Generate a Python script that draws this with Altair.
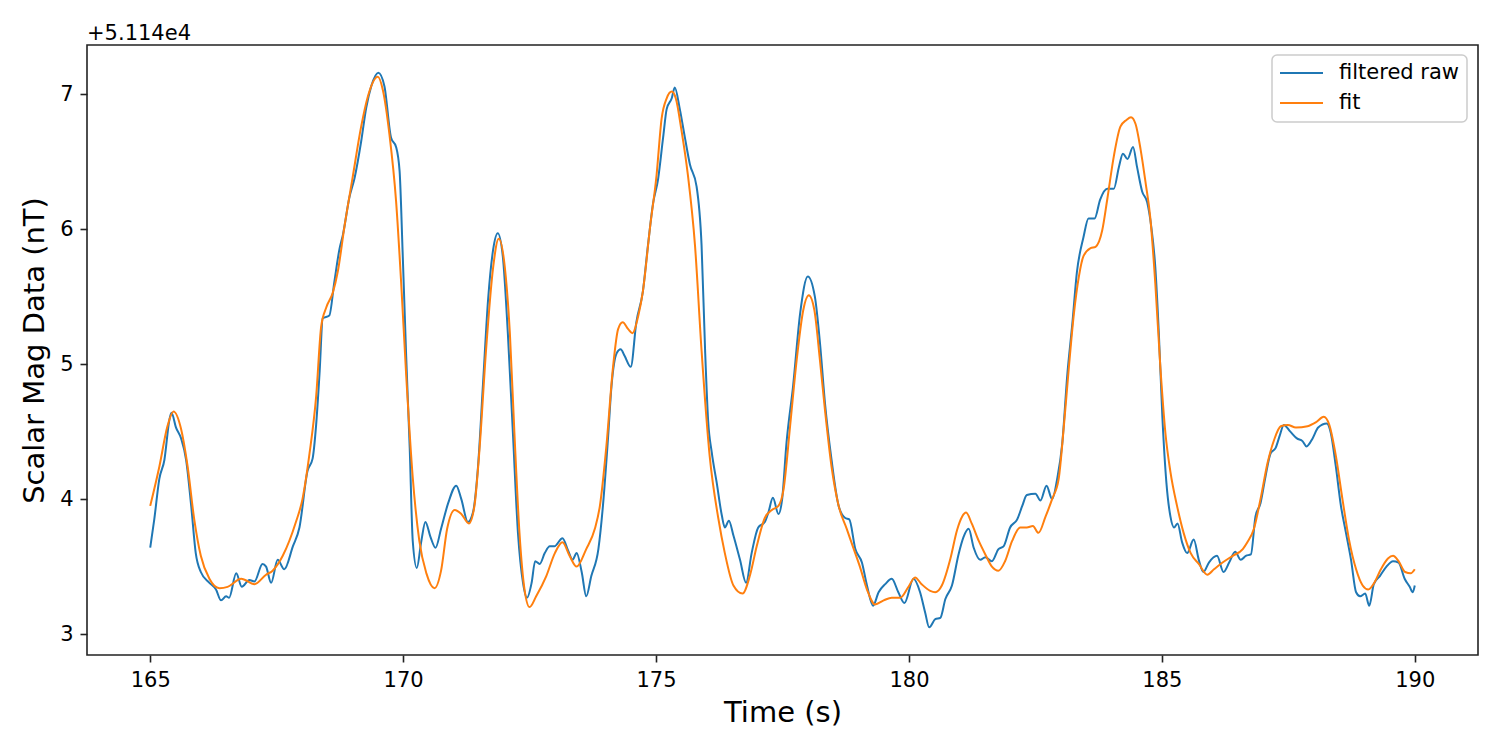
import altair as alt
import pandas as pd

# filtered raw (blue): time (s), value offset from 5.114e4 (nT)
raw_t = [165.00, 165.08, 165.18, 165.28, 165.38, 165.42, 165.51, 165.61, 165.71, 165.81,
         165.90, 166.00, 166.17, 166.30, 166.40, 166.50, 166.56, 166.70, 166.81, 166.96,
         167.06, 167.22, 167.29, 167.39, 167.52, 167.65, 167.82, 167.95, 168.11, 168.21,
         168.28, 168.35, 168.41, 168.54, 168.64, 168.74, 168.81, 168.94, 169.04, 169.17,
         169.27, 169.37, 169.51, 169.63, 169.76, 169.86, 169.93, 169.99, 170.06, 170.13,
         170.19, 170.27, 170.36, 170.44, 170.54, 170.64, 170.75, 170.89, 171.05, 171.15,
         171.28, 171.38, 171.48, 171.58, 171.68, 171.78, 171.87, 171.97, 172.07, 172.17,
         172.27, 172.37, 172.45, 172.54, 172.61, 172.70, 172.80, 172.90, 172.99, 173.15,
         173.26, 173.35, 173.43, 173.53, 173.62, 173.72, 173.86, 173.95, 174.05, 174.12,
         174.22, 174.30, 174.38, 174.50, 174.61, 174.74, 174.84, 174.94, 175.04, 175.14,
         175.21, 175.31, 175.37, 175.47, 175.57, 175.67, 175.80, 175.90, 175.97, 176.03,
         176.10, 176.20, 176.30, 176.36, 176.44, 176.53, 176.66, 176.78, 176.89, 177.02,
         177.15, 177.22, 177.31, 177.42, 177.49, 177.58, 177.71, 177.85, 178.00, 178.14,
         178.24, 178.34, 178.47, 178.61, 178.74, 178.82, 178.94, 179.07, 179.17, 179.29,
         179.40, 179.53, 179.66, 179.79, 179.91, 180.09, 180.22, 180.32, 180.40, 180.52,
         180.62, 180.72, 180.85, 180.98, 181.08, 181.18, 181.28, 181.41, 181.51, 181.64,
         181.77, 181.87, 182.00, 182.14, 182.24, 182.33, 182.50, 182.60, 182.72, 182.83,
         182.93, 183.03, 183.13, 183.23, 183.32, 183.45, 183.55, 183.67, 183.78, 183.92,
         184.05, 184.15, 184.23, 184.32, 184.43, 184.51, 184.61, 184.71, 184.79, 184.87,
         184.94, 185.01, 185.09, 185.17, 185.24, 185.31, 185.40, 185.50, 185.63, 185.73,
         185.82, 185.93, 186.09, 186.22, 186.33, 186.45, 186.56, 186.66, 186.76, 186.85,
         186.95, 187.05, 187.15, 187.25, 187.33, 187.41, 187.54, 187.67, 187.78, 187.86,
         187.98, 188.09, 188.26, 188.34, 188.44, 188.54, 188.64, 188.74, 188.84, 188.92,
         189.02, 189.10, 189.19, 189.31, 189.44, 189.57, 189.68, 189.80, 189.90, 189.96,
         190.00]
raw_v = [3.64, 3.85, 4.15, 4.29, 4.59, 4.64, 4.53, 4.45, 4.29, 3.95,
         3.60, 3.46, 3.38, 3.33, 3.25, 3.28, 3.27, 3.45, 3.35, 3.40,
         3.39, 3.52, 3.50, 3.38, 3.55, 3.48, 3.65, 3.79, 4.21, 4.30,
         4.55, 4.95, 5.34, 5.36, 5.61, 5.85, 5.96, 6.24, 6.38, 6.65,
         6.90, 7.06, 7.16, 7.06, 6.68, 6.61, 6.43, 5.83, 5.06, 4.38,
         3.69, 3.49, 3.69, 3.83, 3.72, 3.64, 3.78, 3.97, 4.10, 4.00,
         3.83, 3.90, 4.24, 4.86, 5.48, 5.85, 5.97, 5.80, 5.23, 4.49,
         3.75, 3.38, 3.27, 3.38, 3.54, 3.52, 3.60, 3.65, 3.65, 3.71,
         3.62, 3.55, 3.60, 3.46, 3.28, 3.43, 3.63, 3.95, 4.45, 4.84,
         5.08, 5.11, 5.06, 4.98, 5.31, 5.54, 5.88, 6.19, 6.37, 6.68,
         6.89, 6.97, 7.05, 6.89, 6.68, 6.48, 6.32, 5.88, 5.10, 4.58,
         4.35, 4.12, 3.88, 3.79, 3.84, 3.73, 3.55, 3.38, 3.60, 3.79,
         3.83, 3.90, 4.01, 3.89, 3.99, 4.42, 4.84, 5.38, 5.65, 5.50,
         5.16, 4.71, 4.29, 3.95, 3.86, 3.85, 3.63, 3.53, 3.36, 3.21,
         3.31, 3.37, 3.41, 3.31, 3.23, 3.41, 3.31, 3.16, 3.05, 3.11,
         3.12, 3.26, 3.36, 3.59, 3.72, 3.78, 3.64, 3.55, 3.57, 3.54,
         3.63, 3.65, 3.79, 3.85, 3.95, 4.03, 4.04, 3.99, 4.10, 4.00,
         4.15, 4.41, 4.92, 5.30, 5.68, 5.94, 6.08, 6.08, 6.22, 6.30,
         6.30, 6.46, 6.56, 6.52, 6.61, 6.46, 6.28, 6.20, 6.02, 5.72,
         5.23, 4.61, 4.12, 3.87, 3.79, 3.82, 3.68, 3.60, 3.70, 3.55,
         3.46, 3.53, 3.58, 3.46, 3.53, 3.61, 3.55, 3.58, 3.59, 3.87,
         3.97, 4.17, 4.34, 4.38, 4.47, 4.55, 4.50, 4.45, 4.43, 4.39,
         4.45, 4.53, 4.56, 4.49, 4.24, 3.95, 3.75, 3.55, 3.31, 3.28,
         3.30, 3.21, 3.37, 3.43, 3.50, 3.54, 3.53, 3.41, 3.35, 3.31,
         3.36]

# fit (orange)
fit_t = [165.00, 165.18, 165.34, 165.46, 165.61, 165.74, 165.87, 166.00, 166.17, 166.37,
         166.53, 166.80, 167.06, 167.29, 167.42, 167.62, 167.88, 168.01, 168.15, 168.28,
         168.38, 168.48, 168.61, 168.71, 168.84, 169.00, 169.17, 169.30, 169.50, 169.60,
         169.73, 169.86, 169.96, 170.06, 170.19, 170.32, 170.46, 170.62, 170.75, 170.87,
         171.02, 171.15, 171.30, 171.41, 171.51, 171.64, 171.78, 171.89, 172.01, 172.11,
         172.20, 172.30, 172.40, 172.50, 172.63, 172.83, 173.00, 173.15, 173.29, 173.43,
         173.62, 173.79, 173.89, 174.02, 174.15, 174.25, 174.34, 174.45, 174.53, 174.65,
         174.74, 174.88, 175.01, 175.11, 175.21, 175.31, 175.39, 175.50, 175.63, 175.77,
         175.90, 176.06, 176.23, 176.36, 176.53, 176.71, 176.86, 176.99, 177.15, 177.29,
         177.42, 177.52, 177.65, 177.78, 177.91, 178.02, 178.13, 178.24, 178.34, 178.47,
         178.61, 178.77, 178.89, 179.03, 179.17, 179.33, 179.50, 179.66, 179.83, 179.99,
         180.12, 180.25, 180.42, 180.52, 180.65, 180.82, 180.95, 181.05, 181.13, 181.24,
         181.38, 181.51, 181.64, 181.77, 181.90, 182.04, 182.20, 182.33, 182.45, 182.56,
         182.70, 182.83, 182.96, 183.06, 183.16, 183.26, 183.36, 183.45, 183.59, 183.69,
         183.82, 183.92, 184.05, 184.18, 184.30, 184.39, 184.48, 184.58, 184.68, 184.77,
         184.87, 184.97, 185.07, 185.17, 185.30, 185.43, 185.57, 185.73, 185.90, 186.03,
         186.20, 186.40, 186.60, 186.69, 186.82, 186.95, 187.09, 187.22, 187.35, 187.49,
         187.65, 187.88, 188.05, 188.20, 188.31, 188.44, 188.57, 188.70, 188.84, 188.97,
         189.08, 189.20, 189.33, 189.47, 189.57, 189.68, 189.81, 189.92, 190.00]
fit_v = [3.95, 4.24, 4.54, 4.65, 4.52, 4.24, 3.85, 3.58, 3.41, 3.34,
         3.35, 3.41, 3.37, 3.44, 3.47, 3.58, 3.83, 4.00, 4.34, 4.76,
         5.28, 5.42, 5.53, 5.69, 6.02, 6.38, 6.76, 6.98, 7.13, 7.03,
         6.70, 6.21, 5.61, 4.92, 4.16, 3.69, 3.45, 3.34, 3.47, 3.78,
         3.92, 3.89, 3.82, 3.95, 4.37, 5.11, 5.72, 5.93, 5.72, 5.23,
         4.49, 3.75, 3.33, 3.20, 3.28, 3.43, 3.60, 3.68, 3.58, 3.50,
         3.63, 3.78, 3.95, 4.40, 4.98, 5.26, 5.31, 5.26, 5.23, 5.36,
         5.54, 6.01, 6.40, 6.82, 6.97, 7.02, 6.97, 6.74, 6.40, 5.88,
         5.10, 4.32, 3.86, 3.60, 3.36, 3.30, 3.44, 3.65, 3.86, 3.92,
         3.95, 4.07, 4.54, 5.03, 5.40, 5.51, 5.40, 5.03, 4.66, 4.24,
         3.95, 3.78, 3.65, 3.50, 3.33, 3.22, 3.25, 3.27, 3.27, 3.35,
         3.42, 3.37, 3.32, 3.31, 3.36, 3.56, 3.77, 3.87, 3.90, 3.82,
         3.69, 3.59, 3.50, 3.47, 3.54, 3.69, 3.79, 3.79, 3.80, 3.75,
         3.87, 4.00, 4.15, 4.53, 4.97, 5.37, 5.65, 5.80, 5.86, 5.87,
         5.99, 6.22, 6.54, 6.76, 6.81, 6.83, 6.78, 6.59, 6.34, 6.09,
         5.60, 4.98, 4.49, 4.20, 3.95, 3.75, 3.60, 3.52, 3.44, 3.48,
         3.53, 3.58, 3.63, 3.68, 3.78, 4.00, 4.27, 4.44, 4.54, 4.55,
         4.53, 4.54, 4.57, 4.61, 4.55, 4.32, 4.00, 3.70, 3.48, 3.36,
         3.33, 3.38, 3.48, 3.56, 3.58, 3.54, 3.46, 3.45, 3.48]

x_ticks = [165, 170, 175, 180, 185, 190]
y_ticks = [3, 4, 5, 6, 7]
series_names = ["filtered raw", "fit"]
series_colors = ["#1f77b4", "#ff7f0e"]
offset_label = "+5.114e4"

FONT = "DejaVu Sans"
W, H = 1391, 610

raw_df = pd.DataFrame({"t": raw_t, "v": raw_v})
fit_df = pd.DataFrame({"t": fit_t, "v": fit_v})

xs = alt.Scale(domain=[163.75, 191.25], nice=False, zero=False)
ys = alt.Scale(domain=[2.845, 7.365], nice=False, zero=False)

x_axis = alt.Axis(values=x_ticks, title="Time (s)", grid=False, domain=False,
                  tickSize=7, tickWidth=1.6, tickColor="#222222",
                  labelFontSize=21, labelFont=FONT, labelColor="black", labelPadding=7,
                  titleFontSize=29, titleFont=FONT, titleFontWeight="normal",
                  titleColor="black", titlePadding=8, format="d", labelFlush=False)
y_axis = alt.Axis(values=y_ticks, title="Scalar Mag Data (nT)", grid=False, domain=False,
                  tickSize=7, tickWidth=1.6, tickColor="#222222",
                  labelFontSize=21, labelFont=FONT, labelColor="black", labelPadding=7,
                  titleFontSize=29, titleFont=FONT, titleFontWeight="normal",
                  titleColor="black", titlePadding=10, format="d", labelFlush=False)

raw_line = alt.Chart(raw_df).mark_line(
    color=series_colors[0], strokeWidth=2, interpolate="monotone"
).encode(
    x=alt.X("t:Q", scale=xs, axis=x_axis),
    y=alt.Y("v:Q", scale=ys, axis=y_axis),
)
fit_line = alt.Chart(fit_df).mark_line(
    color=series_colors[1], strokeWidth=2, interpolate="monotone"
).encode(
    x=alt.X("t:Q", scale=xs),
    y=alt.Y("v:Q", scale=ys),
)

one = pd.DataFrame({"k": [0]})

offset_text = alt.Chart(one).mark_text(
    text=offset_label, font=FONT, fontSize=21, align="left", baseline="alphabetic",
    color="black"
).encode(x=alt.value(0), y=alt.value(-5))

legend_box = alt.Chart(one).mark_rect(
    fill="white", fillOpacity=0.8, stroke="#cccccc", strokeWidth=1.5, cornerRadius=5
).encode(x=alt.value(1185), x2=alt.value(1380), y=alt.value(10), y2=alt.value(77))

legend_df = pd.DataFrame({
    "name": series_names,
    "color": series_colors,
    "ypos": [28, 58],
})
legend_lines = alt.Chart(legend_df).mark_rule(strokeWidth=2).encode(
    x=alt.value(1193), x2=alt.value(1236),
    y=alt.Y("ypos:Q", scale=None),
    color=alt.Color("color:N", scale=None),
)
legend_text = alt.Chart(legend_df).mark_text(
    font=FONT, fontSize=21, align="left", baseline="middle", color="black"
).encode(
    x=alt.value(1252),
    y=alt.Y("ypos:Q", scale=None),
    text="name:N",
)

chart = alt.layer(
    raw_line, fit_line, offset_text, legend_box, legend_lines, legend_text
).properties(
    width=W, height=H,
    autosize=alt.AutoSizeParams(type="none"),
    padding={"left": 87, "top": 45, "right": 22, "bottom": 95},
    background="white",
).configure_view(
    stroke="#222222", strokeWidth=1.6
)

chart.save("out.html", embed_options={"renderer": "svg", "actions": False})
